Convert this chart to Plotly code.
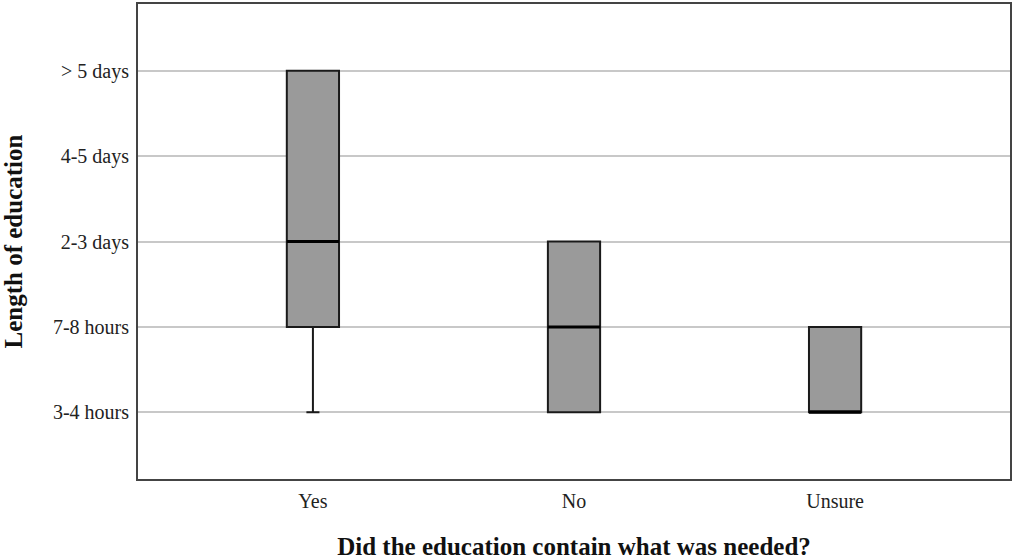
import plotly.graph_objects as go

# Answer groups and the ordinal scale of education length
groups = ["Yes", "No", "Unsure"]
length_labels = ["3-4 hours", "7-8 hours", "2-3 days", "4-5 days", "> 5 days"]
length_codes = [1, 2, 3, 4, 5]

# Box-plot summaries per group (ordinal codes)
q1 = [2, 1, 1]
median = [3, 2, 1]
q3 = [5, 3, 2]
lower_whisker = [1, 1, 1]
upper_whisker = [5, 3, 2]

positions = list(range(len(groups)))
box_half = 0.1

fig = go.Figure()

fig.add_trace(go.Box(
    x=positions,
    q1=q1,
    median=median,
    q3=q3,
    lowerfence=lower_whisker,
    upperfence=upper_whisker,
    width=2 * box_half,
    whiskerwidth=0.25,
    fillcolor="#9a9a9a",
    line=dict(color="#1a1a1a", width=2),
    boxpoints=False,
    showlegend=False,
    hoverinfo="skip",
))

# Heavier median bars drawn on top of each box
for pos, m in zip(positions, median):
    fig.add_trace(go.Scatter(
        x=[pos - box_half, pos + box_half],
        y=[m, m],
        mode="lines",
        line=dict(color="black", width=3),
        showlegend=False,
        hoverinfo="skip",
    ))

serif = "Liberation Serif, Times New Roman, serif"

fig.update_layout(
    width=1014,
    height=560,
    margin=dict(l=138, r=2, t=4, b=81),
    paper_bgcolor="white",
    plot_bgcolor="white",
    font=dict(family=serif, size=20, color="#222"),
    xaxis=dict(
        range=[-0.67, 2.67],
        tickvals=positions,
        ticktext=groups,
        showgrid=False,
        zeroline=False,
        showline=True,
        mirror=True,
        linecolor="#444",
        linewidth=2,
        ticks="",
        ticklabelstandoff=3,
        tickfont=dict(family=serif, size=20, color="#222"),
        title=dict(
            text="<b>Did the education contain what was needed?</b>",
            font=dict(family=serif, size=25, color="#111"),
            standoff=27,
        ),
    ),
    yaxis=dict(
        range=[0.22, 5.78],
        tickvals=length_codes,
        ticktext=length_labels,
        showgrid=True,
        gridcolor="#c8c8c8",
        gridwidth=2,
        zeroline=False,
        showline=True,
        mirror=True,
        linecolor="#444",
        linewidth=2,
        ticks="",
        ticklabelstandoff=3,
        tickfont=dict(family=serif, size=20, color="#222"),
        title=dict(
            text="<b>Length of education</b>",
            font=dict(family=serif, size=25, color="#111"),
            standoff=25,
        ),
    ),
)

fig.write_html("out.html")
